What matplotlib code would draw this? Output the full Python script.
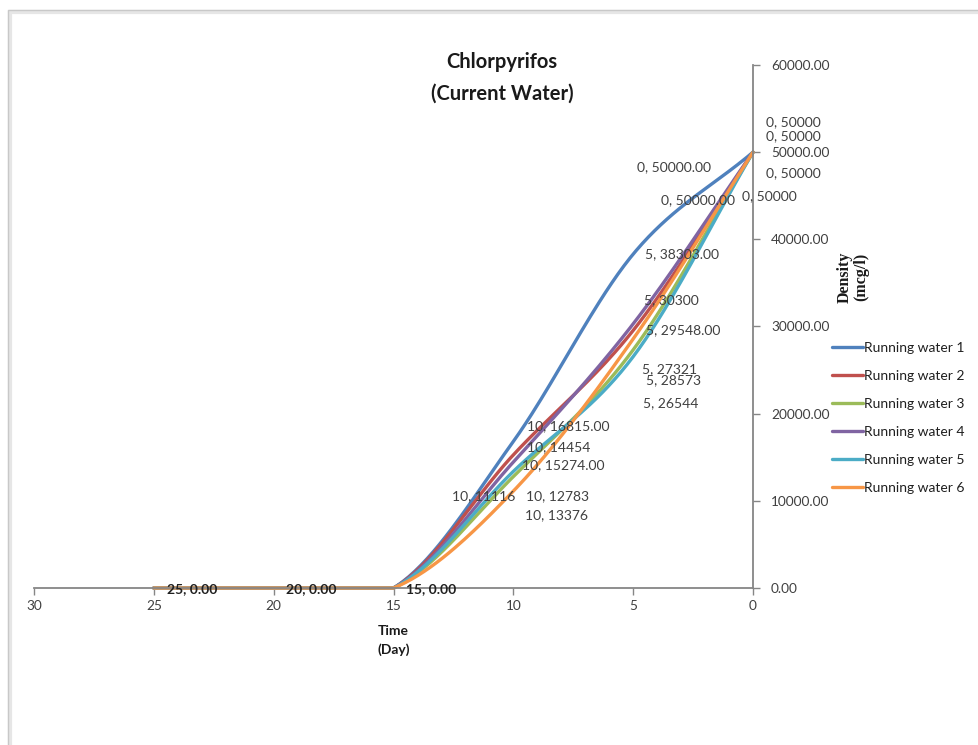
import matplotlib

matplotlib.use('Agg')
from matplotlib import pyplot as plt
from matplotlib.patches import Rectangle
import numpy as np

# days before end of exposure (axis is reversed, 30 -> 0)
days = [0, 5, 10, 15, 20, 25]

water1 = [50000, 38303, 16815, 0, 0, 0]
water2 = [50000, 29548, 15274, 0, 0, 0]
water3 = [50000, 27321, 12783, 0, 0, 0]
water4 = [50000, 30300, 14454, 0, 0, 0]
water5 = [50000, 26544, 13376, 0, 0, 0]
water6 = [50000, 28573, 11116, 0, 0, 0]

series_names = ["Running water 1", "Running water 2", "Running water 3",
                "Running water 4", "Running water 5", "Running water 6"]
series_colors = ["#4F81BD", "#C0504D", "#9BBB59", "#8064A2", "#4BACC6", "#F79646"]
# series 1 and 2 had their labels formatted with two decimals
label_decimals = [True, True, False, False, False, False]

# where Excel left the data labels (data coords), one row per series, points 0/5/10
label_pos = [
    [(3.3, 48300), (2.95, 38300), (7.7, 18600)],
    [(2.3, 44550), (2.9, 29600), (7.9, 14100)],
    [(-1.7, 53450), (3.5, 25150), (8.15, 10550)],
    [(-1.7, 51800), (3.4, 33000), (8.1, 16150)],
    [(-1.7, 47600), (3.45, 21150), (8.2, 8300)],
    [(-0.7, 44950), (3.3, 23900), (11.25, 10550)],
]
# labels for the zero points at 15, 20, 25 days
zero_label_pos = [(13.45, -120), (18.45, -120), (23.4, -120)]


def smooth(x, y, n=40):
    """Excel-like smoothed line: cubic hermite with catmull-rom tangents"""
    x = np.asarray(x, float)
    y = np.asarray(y, float)
    m = np.zeros_like(y)
    m[1:-1] = (y[2:] - y[:-2]) / (x[2:] - x[:-2])
    m[0] = (y[1] - y[0]) / (x[1] - x[0])
    m[-1] = (y[-1] - y[-2]) / (x[-1] - x[-2])
    xs, ys = [], []
    for i in range(len(x) - 1):
        h = x[i + 1] - x[i]
        t = np.linspace(0, 1, n)
        h00 = 2 * t**3 - 3 * t**2 + 1
        h10 = t**3 - 2 * t**2 + t
        h01 = -2 * t**3 + 3 * t**2
        h11 = t**3 - t**2
        xs.append(x[i] + t * h)
        ys.append(h00 * y[i] + h10 * h * m[i] + h01 * y[i + 1] + h11 * h * m[i + 1])
    return np.concatenate(xs), np.maximum(np.concatenate(ys), 0)


plt.rcParams['font.family'] = ['Lato', 'DejaVu Sans']

fig = plt.figure(figsize=(9.79, 7.45), dpi=100)
ax = fig.add_axes([34 / 979, 1 - 588 / 745, (753 - 34) / 979, (588 - 65) / 745])

all_series = [water1, water2, water3, water4, water5, water6]
for vals, name, col in zip(all_series, series_names, series_colors):
    sx, sy = smooth(days, vals)
    ax.plot(sx, sy, color=col, lw=2.4, label=name, solid_capstyle='round', clip_on=False)

# data labels
for vals, pos, dec in zip(all_series, label_pos, label_decimals):
    for d, v, (tx, ty) in zip(days[:3], vals[:3], pos):
        txt = "{}, {:.2f}".format(d, v) if dec else "{}, {}".format(d, v)
        ax.text(tx, ty, txt, ha='center', va='center', fontsize=10, color='#404040')
for d, (tx, ty) in zip(days[3:], zero_label_pos):
    ax.text(tx, ty, "{}, 0.00".format(d), ha='center', va='center', fontsize=10,
            color='#202020', fontweight='bold')

ax.set_xlim(30, 0)
ax.set_ylim(0, 60000)
ax.set_xticks([30, 25, 20, 15, 10, 5, 0])
ax.set_yticks(np.arange(0, 60001, 10000))
ax.set_yticklabels(["{:.2f}".format(v) for v in np.arange(0, 60001, 10000)])

for s in ['top', 'left']:
    ax.spines[s].set_visible(False)
for s in ['bottom', 'right']:
    ax.spines[s].set_color('#868686')
    ax.spines[s].set_linewidth(1.3)
ax.yaxis.tick_right()
ax.tick_params(axis='both', colors='#868686', labelcolor='#404040', labelsize=9.8,
               length=5, width=1)
ax.tick_params(axis='y', pad=8)
ax.tick_params(axis='x', pad=4)

fig.text(502 / 979, 1 - 62 / 745, "Chlorpyrifos", ha='center', va='center',
         fontsize=14.5, fontweight='bold', color='#1a1a1a')
fig.text(502 / 979, 1 - 94 / 745, "(Current Water)", ha='center', va='center',
         fontsize=14.5, fontweight='bold', color='#1a1a1a')

ax.set_xlabel("Time\n(Day)", fontsize=10, fontweight='bold', color='#1a1a1a',
              labelpad=9, linespacing=1.6)

fig.text(853 / 979, 1 - 277 / 745, "Density\n(mcg/l)", rotation=90, ha='center',
         va='center', fontsize=11.5, fontweight='bold', family='Liberation Serif',
         color='#1a1a1a', linespacing=1.0)

ax.legend(loc='center left', bbox_to_anchor=(820 / 979, 1 - 418 / 745),
          bbox_transform=fig.transFigure, frameon=False, fontsize=10,
          handlelength=2.2, handletextpad=0.05, labelspacing=1.15, labelcolor='#202020')

# chart-area border with a soft shadow, like the pasted Excel object
fig.patches.append(Rectangle((10 / 979, -0.05), 1.1, 1 - 12 / 745 + 0.05,
                             transform=fig.transFigure, fill=False,
                             edgecolor='#e6e6e6', lw=3, zorder=0))
fig.patches.append(Rectangle((8 / 979, -0.05), 1.1, 1 - 10 / 745 + 0.05,
                             transform=fig.transFigure, fill=False,
                             edgecolor='#c8c8c8', lw=1, zorder=0))

plt.savefig("out.png", dpi=100)
plt.close()
